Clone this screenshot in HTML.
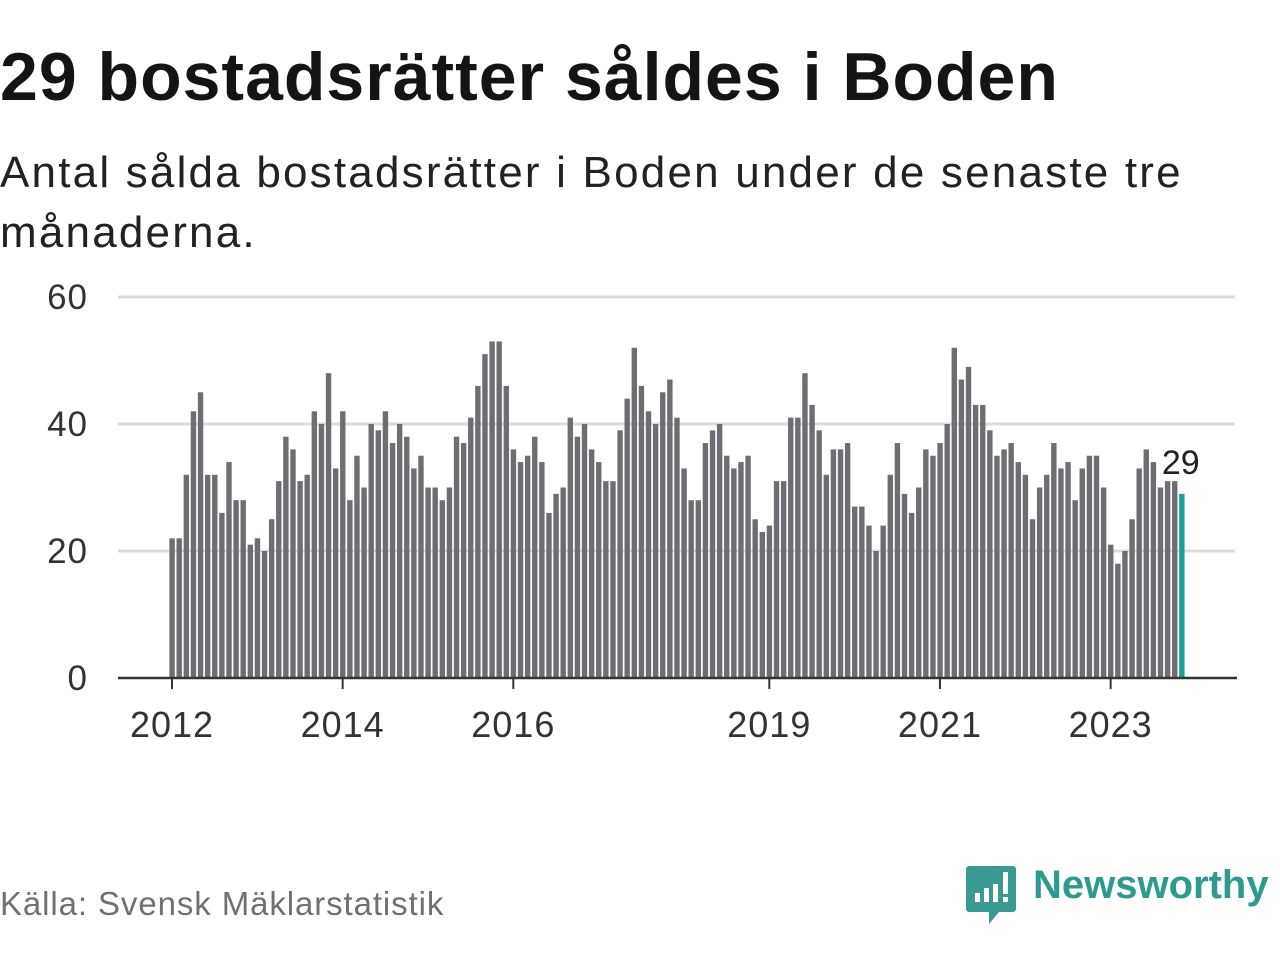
<!DOCTYPE html>
<html><head><meta charset="utf-8">
<style>
body{margin:0;width:1280px;height:960px;background:#fff;overflow:hidden;font-family:"Liberation Sans","DejaVu Sans",sans-serif;color:#111;position:relative}
#title{position:absolute;left:0;top:38px;font-size:68px;font-weight:bold;letter-spacing:1px;white-space:nowrap;color:#141414}
#sub{position:absolute;left:0;top:143px;font-size:44px;letter-spacing:2.2px;line-height:60px;width:1230px;color:#222}
#src{position:absolute;left:0;top:885px;font-size:33px;letter-spacing:0.9px;color:#707070}
#logo-text{position:absolute;left:1033px;top:863px;font-size:40px;color:#2e9a8f;font-weight:bold;white-space:nowrap}
svg{position:absolute;left:0;top:0}
</style></head><body>
<div id="title">29 bostadsrätter såldes i Boden</div>
<div id="sub">Antal sålda bostadsrätter i Boden under de senaste tre månaderna.</div>
<svg id="chart" width="1280" height="960"></svg>
<div id="src">Källa: Svensk Mäklarstatistik</div>
<svg width="1280" height="960" style="pointer-events:none">
<path d="M969 866 h44 a3 3 0 0 1 3 3 v40 a3 3 0 0 1 -3 3 h-14 l-10 12 v-12 h-20 a3 3 0 0 1 -3 -3 v-40 a3 3 0 0 1 3 -3z" fill="#3a9a91"/>
<rect x="975" y="893" width="5" height="9" fill="#fff"/><rect x="984" y="888" width="5" height="14" fill="#fff"/><rect x="993" y="884" width="5" height="18" fill="#fff"/><rect x="1003" y="872" width="5" height="22" fill="#fff"/><rect x="1003" y="897" width="5" height="5" fill="#fff"/>
</svg>
<div id="logo-text">Newsworthy</div>
<script>
const values=[22,22,32,42,45,32,32,26,34,28,28,21,
22,20,25,31,38,36,31,32,42,40,48,33,
42,28,35,30,40,39,42,37,40,38,33,35,
30,30,28,30,38,37,41,46,51,53,53,46,
36,34,35,38,34,26,29,30,41,38,40,36,
34,31,31,39,44,52,46,42,40,45,47,41,
33,28,28,37,39,40,35,33,34,35,25,23,
24,31,31,41,41,48,43,39,32,36,36,37,
27,27,24,20,24,32,37,29,26,30,36,35,
37,40,52,47,49,43,43,39,35,36,37,34,
32,25,30,32,37,33,34,28,33,35,35,30,
21,18,20,25,33,36,34,30,31,31,29];
const yTicks=[0,20,40,60];
const xYears=[2012,2014,2016,2019,2021,2023];
const startYear=2012;
const NS="http://www.w3.org/2000/svg";
const svg=document.getElementById('chart');
const y0=678,yTop=297,yMax=60;
const x0=172,step=85.33/12;
const ys=v=>y0-(v/yMax)*(y0-yTop);
const xs=i=>x0+i*step;
function mk(t,a){const e=document.createElementNS(NS,t);for(const k in a)e.setAttribute(k,a[k]);svg.appendChild(e);return e;}
yTicks.forEach(t=>{
 if(t>0){const g=mk('line',{x1:118,x2:1235,y1:ys(t),y2:ys(t),stroke:'#dcdcdc','stroke-width':3});
 
 }
 const l=mk('text',{x:88,y:ys(t)+12,'text-anchor':'end','font-size':35,'letter-spacing':1,fill:'#333','font-family':'Liberation Sans, sans-serif'});
 l.textContent=t;
 
 
});
values.forEach((v,i)=>{
 const last=i===values.length-1;
 const r=mk('rect',{x:xs(i)-2.6,y:ys(v),width:5.4,height:y0-ys(v),fill:last?'#1aa393':'#6e6d72'});
 
 
});
const li=values.length-1;
const lab=mk('text',{x:xs(li)-1,y:ys(values[li])-20,'text-anchor':'middle','font-size':34,fill:'#222','font-family':'Liberation Sans, sans-serif'});
lab.textContent=values[li];


const ax=mk('line',{x1:118,x2:1237,y1:y0,y2:y0,stroke:'#333','stroke-width':2.5});


xYears.forEach(yr=>{
 const x=xs((yr-startYear)*12);
 const tk=mk('line',{x1:x,x2:x,y1:y0,y2:y0+11,stroke:'#333','stroke-width':2});
 
 
 const t=mk('text',{x:x,y:737,'text-anchor':'middle','font-size':36,'letter-spacing':1,fill:'#333','font-family':'Liberation Sans, sans-serif'});
 t.textContent=yr;
 
 
});
</script>
</body></html>
